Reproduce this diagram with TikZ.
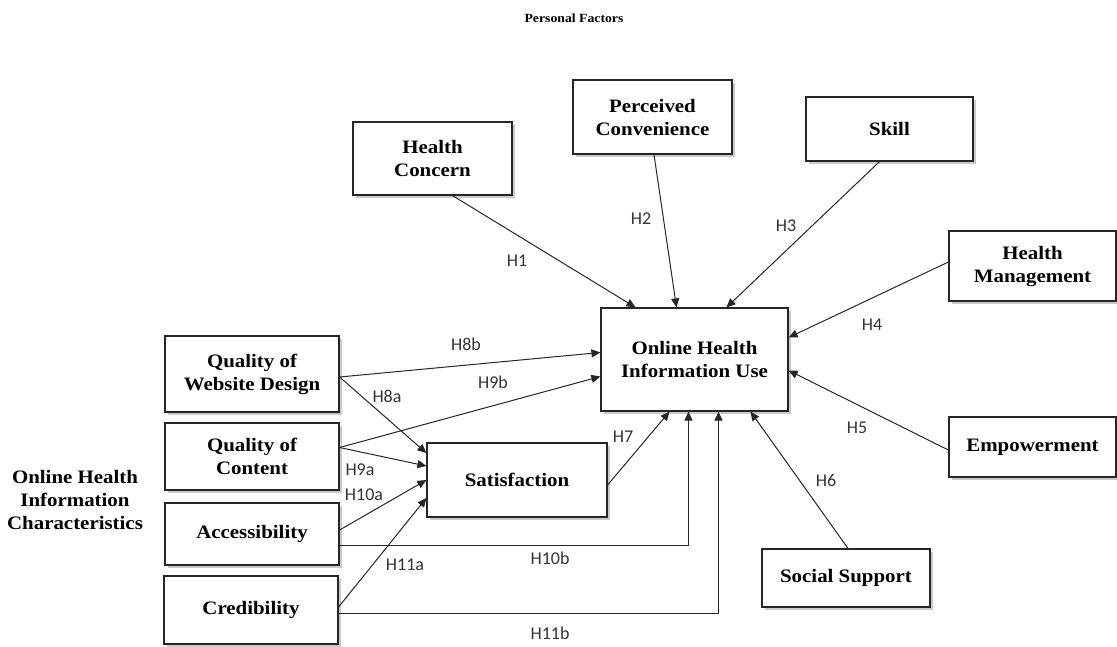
\documentclass[tikz,border=0pt]{standalone}
\usepackage{fontspec}
\setmainfont{Liberation Serif}
\newfontfamily\boxfont[FakeStretch=1.1,UprightFont=*,BoldFont=* Bold]{Liberation Serif}
\newfontfamily\hypfont{Carlito}
\usetikzlibrary{arrows.meta,shadows}

\tikzset{
  box/.style={draw=black!85, line width=1.2pt, fill=white, align=center,
    inner sep=0pt, font=\boxfont\bfseries\fontsize{19}{23}\selectfont,
    drop shadow={shadow xshift=2.5pt, shadow yshift=-2.5pt, opacity=0.35, fill=black!60}},
  caption/.style={align=center, inner sep=0pt, font=\boxfont\bfseries\fontsize{19}{23}\selectfont},
  link/.style={draw=black!85, line width=1pt, -{Triangle[length=9pt,width=8pt]}},
  hyp/.style={font=\hypfont\fontsize{18}{20}\selectfont, text=black!80, inner sep=0pt},
}

\begin{document}
\begin{tikzpicture}[x=1pt, y=-1pt]
\useasboundingbox (0,0) rectangle (1117,646);

% headings
\node[caption, font=\boxfont\bfseries\fontsize{12.5}{15}\selectfont] (pf) at (574,18) {Personal Factors};
\node[caption] (ohic) at (75,500) {Online Health\\Information\\Characteristics};

% personal factors
\node[box, minimum width=159pt, minimum height=73pt] (hc) at (432.5,158.5) {Health\\Concern};
\node[box, minimum width=159pt, minimum height=74pt] (pc) at (652.5,117) {Perceived\\Convenience};
\node[box, minimum width=167pt, minimum height=64pt] (sk) at (889.5,129) {Skill};
\node[box, minimum width=167pt, minimum height=70pt] (hm) at (1032.5,266) {Health\\Management};
\node[box, minimum width=167pt, minimum height=60pt] (em) at (1032.5,447) {Empowerment};
\node[box, minimum width=168pt, minimum height=58pt] (ss) at (846,578) {Social Support};

% outcome and mediator
\node[box, minimum width=187pt, minimum height=103pt] (oh) at (694.5,359.5) {Online Health\\Information Use};
\node[box, minimum width=180pt, minimum height=74pt] (sa) at (517,480) {Satisfaction};

% information characteristics
\node[box, minimum width=174pt, minimum height=76pt] (qw) at (252,374) {Quality of\\Website Design};
\node[box, minimum width=174pt, minimum height=67pt] (qc) at (252,456.5) {Quality of\\Content};
\node[box, minimum width=174pt, minimum height=62pt] (ac) at (252,534) {Accessibility};
\node[box, minimum width=174pt, minimum height=68pt] (cr) at (251,610) {Credibility};

% paths
\draw[link] ([xshift=20pt]hc.south) -- ([xshift=-59pt]oh.north);
\draw[link] ([xshift=1.5pt]pc.south) -- ([xshift=-18pt]oh.north);
\draw[link] ([xshift=-10pt]sk.south) -- ([xshift=32pt]oh.north);
\draw[link] ([yshift=4pt]hm.west) -- ([yshift=22pt]oh.east);
\draw[link] ([yshift=-3pt]em.west) -- ([yshift=-11pt]oh.east);
\draw[link] ([xshift=2pt]ss.north) -- ([xshift=56pt]oh.south);
\draw[link] ([yshift=-5pt]sa.east) -- ([xshift=-25pt]oh.south);
\draw[link] ([yshift=-3pt]qw.east) -- ([yshift=7pt]oh.west);
\draw[link] ([yshift=-3pt]qw.east) -- ([yshift=27pt]sa.west);
\draw[link] ([yshift=9pt]qc.east) -- ([yshift=-17pt]oh.west);
\draw[link] ([yshift=9pt]qc.east) -- ([yshift=14pt]sa.west);
\draw[link] ([yshift=4pt]ac.east) -- (sa.west);
\draw[link] ([yshift=-11pt]ac.east) -| ([xshift=-6pt]oh.south);
\draw[link] ([yshift=3pt]cr.east) -- ([yshift=-18pt]sa.west);
\draw[link] ([yshift=-3pt]cr.east) -| ([xshift=24pt]oh.south);

% hypothesis labels
\node[hyp] (h1) at (517,261) {H1};
\node[hyp] (h2) at (641,219) {H2};
\node[hyp] (h3) at (786,226) {H3};
\node[hyp] (h4) at (872,325) {H4};
\node[hyp] (h5) at (857,428) {H5};
\node[hyp] (h6) at (826,480) {H6};
\node[hyp] (h7) at (623,437) {H7};
\node[hyp] (h8a) at (387,396) {H8a};
\node[hyp] (h8b) at (466,344) {H8b};
\node[hyp] (h9a) at (360,470) {H9a};
\node[hyp] (h9b) at (493,382) {H9b};
\node[hyp] (h10a) at (364,495) {H10a};
\node[hyp] (h10b) at (550,558) {H10b};
\node[hyp] (h11a) at (405,565) {H11a};
\node[hyp] (h11b) at (550,633) {H11b};
\end{tikzpicture}
\end{document}
